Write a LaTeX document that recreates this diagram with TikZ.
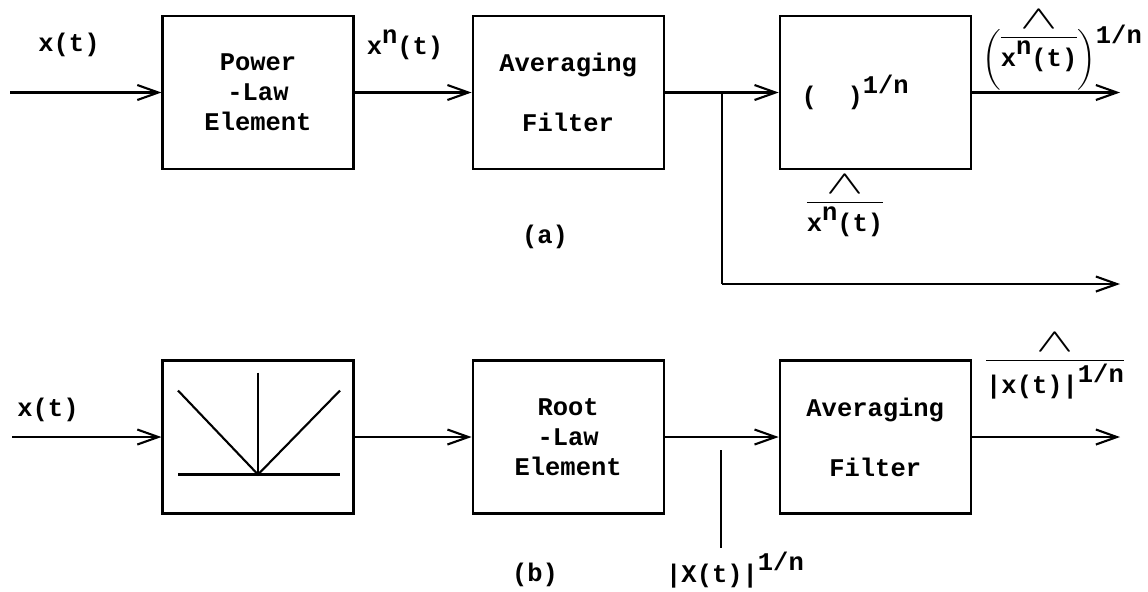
\documentclass[tikz,border=0pt]{standalone}
\usepackage{amsmath}
\usepackage{fontspec}
\setmonofont{Liberation Mono}
\usetikzlibrary{arrows.meta, positioning}

\newcommand{\up}[1]{\raisebox{0.45em}{#1}}
\newcommand{\hatbar}[1]{\ensuremath{\overset{\raisebox{0.1em}{\scalebox{2.2}[1.3]{$\wedge$}}}{\overline{\hbox{#1}}}}}

\begin{document}
\begin{tikzpicture}[
        font=\ttfamily\bfseries\fontsize{14.5}{17}\selectfont,
        node distance = 2.34cm,
        block/.style = {rectangle, draw, line width=1.2pt, minimum width=3.82cm, minimum height=3.06cm, align=center},
        wire/.style = {line width=1.2pt},
        arrow/.style = {wire, -{Straight Barb[length=0.42cm, width=0.3cm]}}
    ]
        \useasboundingbox (0,0) rectangle (22.96,-11.82);

        % (a): power law, averaging, root
        \node [block] (PowLaw) at (5.16,-1.85) {Power\\-Law\\Element};
        \node [block, right=of PowLaw] (AvgA) {Averaging\\[0.6cm]Filter};
        \node [block, right=2.28cm of AvgA] (RootA) {(\ \ )\up{1/n}\hspace*{0.8cm}};

        % (b): rectifier, root law, averaging
        \node [block] (Rect) at (5.16,-8.74) {};
        \node [block, right=of Rect] (RootB) {Root\\-Law\\Element};
        \node [block, right=2.28cm of RootB] (AvgB) {Averaging\\[0.6cm]Filter};

        % full-wave rectifier sketch
        \draw [wire] ([shift={(-1.6,-0.75)}]Rect.center) -- ([shift={(1.64,-0.75)}]Rect.center);
        \draw [wire] ([shift={(-1.6,0.93)}]Rect.center) -- ([shift={(0,-0.75)}]Rect.center) -- ([shift={(1.64,0.93)}]Rect.center);
        \draw [wire] ([shift={(0,1.29)}]Rect.center) -- ([shift={(0,-0.75)}]Rect.center);

        % Free ends
        \coordinate (inA) at (0.2,-1.85);
        \coordinate (outA) at (22.4,-1.85);
        \coordinate (split) at (14.44,-1.85);
        \coordinate (tapA) at (14.44,-5.68);
        \coordinate (outA2) at (22.4,-5.68);
        \coordinate (inB) at (0.24,-8.74);
        \coordinate (outB) at (22.4,-8.74);
        \coordinate (tickT) at (14.42,-9.0);
        \coordinate (tickB) at (14.42,-10.96);

        % Connections (a)
        \draw [arrow] (inA) -- (PowLaw);
        \draw [arrow] (PowLaw) -- (AvgA);
        \draw [arrow] (AvgA) -- (RootA);
        \draw [arrow] (RootA) -- (outA);
        \draw [wire] (split) -- (tapA);
        \draw [arrow] (tapA) -- (outA2);

        % Connections (b)
        \draw [arrow] (inB) -- (Rect);
        \draw [arrow] (Rect) -- (RootB);
        \draw [arrow] (RootB) -- (AvgB);
        \draw [arrow] (AvgB) -- (outB);
        \draw [wire] (tickT) -- (tickB);

        % Labels
        \node (xa) at (1.38,-0.9) {x(t)};
        \node (xna) at (8.1,-0.9) {x\up{n}(t)};
        \node [inner sep=0pt] (ya) at (21.24,-0.98) {$\biggl(\hatbar{x\up{n}(t)}\biggr)$\raisebox{0.9em}{1/n}};
        \node (mean) at (16.9,-4.1) {\hatbar{x\up{n}(t)}};
        \node (capA) at (10.9,-4.74) {(a)};
        \node (xb) at (0.96,-8.2) {x(t)};
        \node (root) at (14.7,-11.4) {|X(t)|\up{1/n}};
        \node (yb) at (21.1,-7.3) {\hatbar{|x(t)|\up{1/n}}};
        \node (capB) at (10.7,-11.5) {(b)};

    \end{tikzpicture}
\end{document}
